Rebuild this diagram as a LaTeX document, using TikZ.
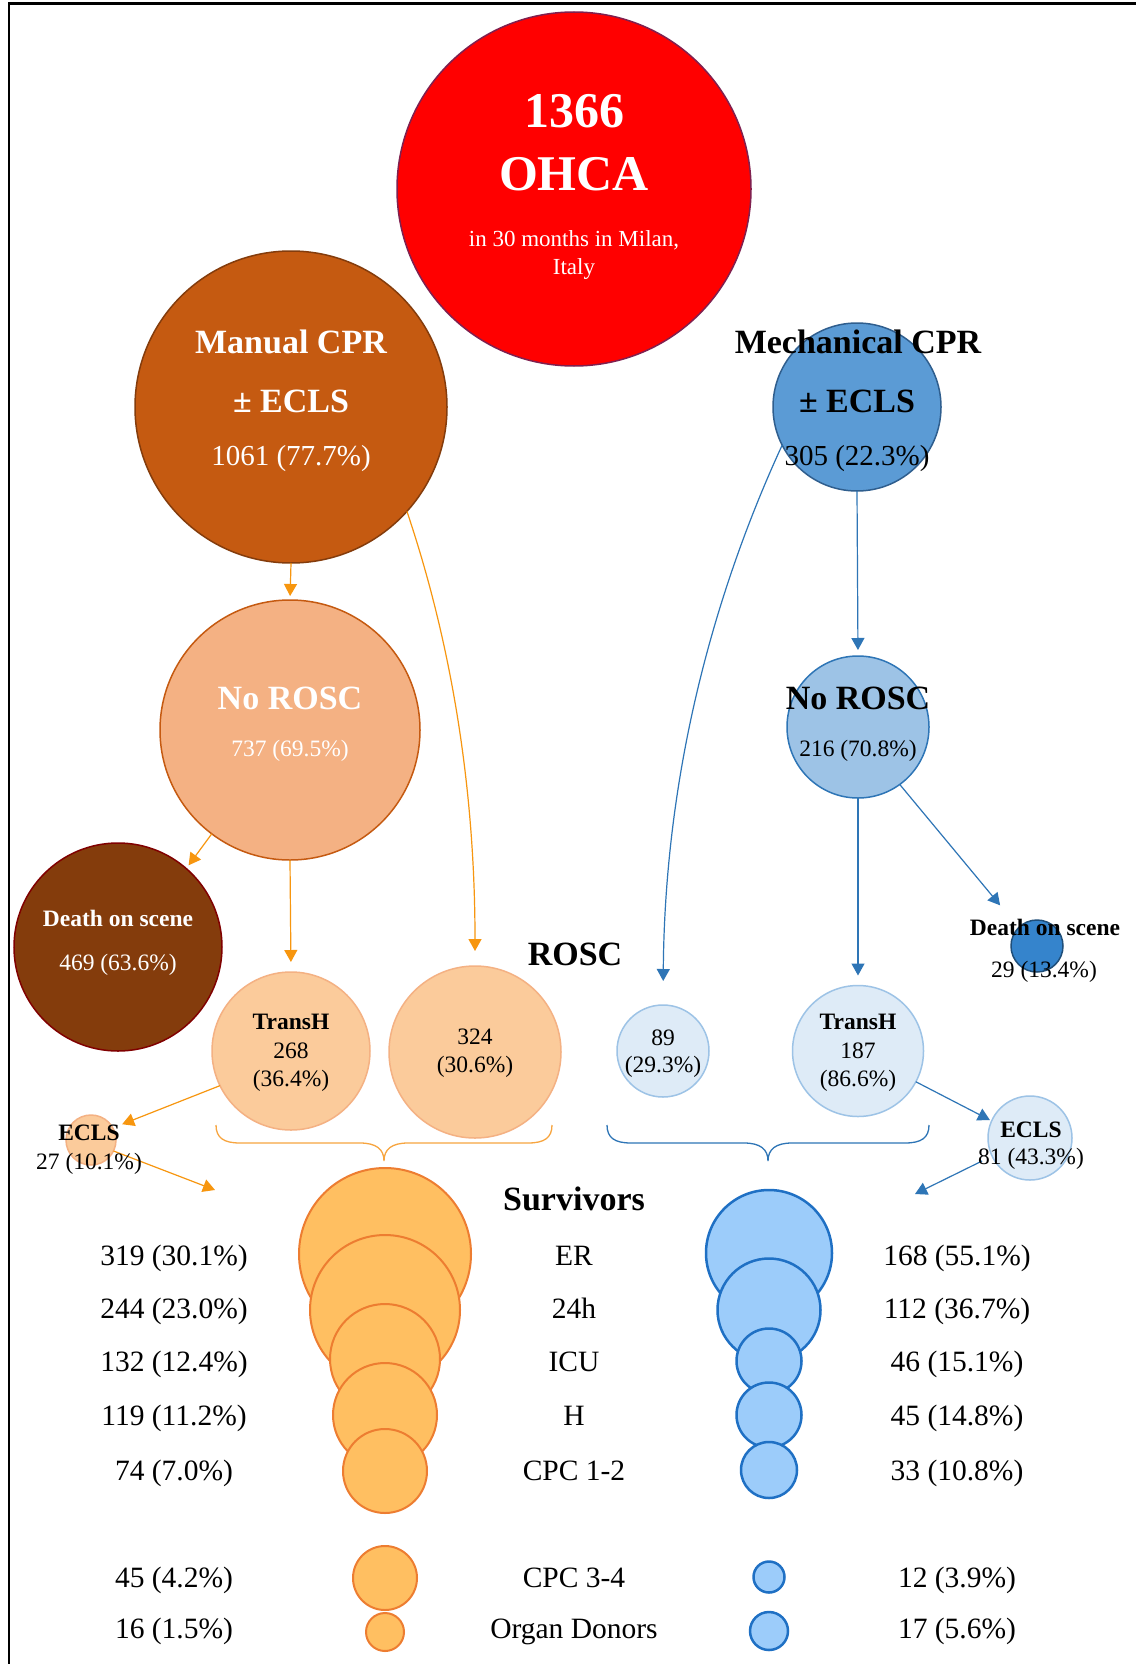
\documentclass[tikz,border=0pt]{standalone}
\usepackage{fontspec}
\setmainfont{Liberation Serif}
\usetikzlibrary{arrows.meta,calc}
\definecolor{ohcaF}{HTML}{FF0000}
\definecolor{ohcaD}{HTML}{80204F}
\definecolor{mcprF}{HTML}{C55A11}
\definecolor{mcprD}{HTML}{843C0C}
\definecolor{nrlF}{HTML}{F4B183}
\definecolor{dlF}{HTML}{843C0C}
\definecolor{dlD}{HTML}{800000}
\definecolor{pchF}{HTML}{FBCB9B}
\definecolor{survLF}{HTML}{FFBF61}
\definecolor{survLD}{HTML}{ED7D31}
\definecolor{mechF}{HTML}{5B9BD5}
\definecolor{mechD}{HTML}{2F5E8E}
\definecolor{nrrF}{HTML}{9DC3E6}
\definecolor{nrrD}{HTML}{2E75B6}
\definecolor{drF}{HTML}{3584CC}
\definecolor{drD}{HTML}{1F4E79}
\definecolor{paleB}{HTML}{DEEBF7}
\definecolor{survRF}{HTML}{9CCCFA}
\definecolor{survRD}{HTML}{1F70C4}
\definecolor{arrO}{HTML}{F7960F}
\definecolor{arrB}{HTML}{2E75B6}
\definecolor{braceO}{HTML}{F7A540}
\newcommand\myfs[1]{\fontsize{#1}{#1}\selectfont}
\begin{document}
\begin{tikzpicture}[x=1pt,y=-1pt,
  circ/.style={circle,inner sep=0pt,outer sep=0pt,minimum size=#1},
  lbl/.style={inner sep=0pt,outer sep=0pt,align=center},
  big/.style={lbl,font=\bfseries\myfs{34}},
  small/.style={lbl,font=\myfs{23.5}},
  smallb/.style={lbl,font=\bfseries\myfs{23.5}},
  row/.style={inner sep=0pt,outer sep=0pt,anchor=base,font=\myfs{29.5}},
  oarr/.style={draw=arrO,line width=1.2pt,-{Triangle[width=13pt,length=12pt]}},
  barr/.style={draw=arrB,line width=1.2pt,-{Triangle[width=13pt,length=12pt]}},
  survL/.style={draw=survLD,fill=survLF,line width=2pt},
  survR/.style={draw=survRD,fill=survRF,line width=2.5pt},
  paleO/.style={draw=nrlF,fill=pchF,line width=1.5pt},
  paleBl/.style={draw=nrrF,fill=paleB,line width=1.5pt}]
\useasboundingbox (0,0) rectangle (1136,1664);
\fill[white] (0,0) rectangle (1136,1664);
\draw[line width=2.5pt] (9,1664) -- (9,3.5) -- (1136,3.5);

% ---- circles
\node[circ=354pt,draw=ohcaD,fill=ohcaF,line width=1.5pt] (ohca) at (574,189) {};
\node[circ=312pt,draw=mcprD,fill=mcprF,line width=1.5pt] (mcpr) at (291,407) {};
\node[circ=168pt,draw=mechD,fill=mechF,line width=1.5pt] (mech) at (857,407) {};
\node[circ=260pt,draw=mcprF,fill=nrlF,line width=1.5pt] (nrl) at (290,730) {};
\node[circ=142pt,draw=nrrD,fill=nrrF,line width=1.5pt] (nrr) at (858,727) {};
\node[circ=208pt,draw=dlD,fill=dlF,line width=1.5pt] (dl) at (118,947) {};
\node[circ=52pt,draw=drD,fill=drF,line width=1.5pt] (dr) at (1037,946) {};
\node[circ=158pt,paleO] (thl) at (291,1051) {};
\node[circ=172pt,paleO] (c324) at (475,1052) {};
\node[circ=92pt,paleBl] (c89) at (663,1051) {};
\node[circ=131pt,paleBl] (thr) at (858,1051) {};
\node[circ=50pt,paleO] (ecl) at (91,1140) {};
\node[circ=84pt,paleBl] (ecr) at (1030,1138) {};

% survivors circles (left)
\node[circ=172pt,survL] (lER) at (385,1254) {};
\node[circ=150pt,survL] (l24) at (385,1310) {};
\node[circ=110pt,survL] (lICU) at (385,1359) {};
\node[circ=104pt,survL] (lH) at (385,1415) {};
\node[circ=84pt,survL] (lCPC) at (385,1471) {};
\node[circ=64pt,survL] (lCPCb) at (385,1578) {};
\node[circ=38pt,survL] (lOD) at (385,1632) {};
% survivors circles (right)
\node[circ=126pt,survR] (rER) at (769,1253) {};
\node[circ=103pt,survR] (r24) at (769,1310) {};
\node[circ=65pt,survR] (rICU) at (769,1361) {};
\node[circ=65pt,survR] (rH) at (769,1415) {};
\node[circ=56pt,survR] (rCPC) at (769,1470) {};
\node[circ=31pt,survR] (rCPCb) at (769,1577) {};
\node[circ=38pt,survR] (rOD) at (769,1631) {};

% ---- braces
\draw[braceO,line width=1.3pt] (216,1125) .. controls (216,1138) and (224,1143) .. (240,1143) -- (360,1143) .. controls (376,1143) and (384,1149) .. (384,1161) .. controls (384,1149) and (392,1143) .. (408,1143) -- (528,1143) .. controls (544,1143) and (552,1138) .. (552,1125);
\draw[arrB,line width=1.3pt] (607,1125) .. controls (607,1138) and (615,1143) .. (631,1143) -- (744,1143) .. controls (760,1143) and (768,1149) .. (768,1161) .. controls (768,1149) and (776,1143) .. (792,1143) -- (905,1143) .. controls (921,1143) and (929,1138) .. (929,1125);

% ---- connectors
\coordinate (s1) at (215,1190);
\coordinate (s2) at (915,1194);
\draw[oarr,shorten >=4pt] (mcpr.south) -- (nrl.north);
\draw[oarr,shorten >=15pt] (mcpr.-42) .. controls (452,645) and (475,790) .. (c324.north);
\draw[oarr,shorten >=4pt] (nrl.-127) -- (dl.49);
\draw[oarr,shorten >=10pt] (nrl.south) -- (thl.north);
\draw[oarr,shorten >=10pt] (thl.-154) -- (ecl.29);
\draw[oarr] (ecl.-26) -- (s1);
\draw[barr,shorten >=24pt] (mech.-153) .. controls (720,580) and (665,760) .. (c89.north);
\draw[barr,shorten >=6pt] (mech.south) -- (nrr.north);
\draw[barr,shorten >=29pt] (nrr.-54) -- (dr.135);
\draw[barr,shorten >=10pt] (nrr.south) -- (thr.north);
\draw[barr,shorten >=2pt] (thr.-28) -- (ecr.156);
\draw[barr] ($(ecr)+(-48,23)$) -- (s2);

% ---- texts
\node[lbl,text=white,font=\bfseries\myfs{50}] (t1) at (574,111) {1366};
\node[lbl,text=white,font=\bfseries\myfs{50}] (t2) at (574,174) {OHCA};
\node[lbl,text=white,font=\myfs{23}] (t3) at (574,240) {in 30 months in Milan,};
\node[lbl,text=white,font=\myfs{23}] (t4) at (574,269) {Italy};

\node[big,text=white] (t5) at (291,342) {Manual CPR};
\node[big,text=white] (t6) at (291,401) {± ECLS};
\node[lbl,text=white,font=\myfs{29}] (t7) at (291,459) {1061 (77.7\%)};

\node[big] (t8) at (858,342) {Mechanical CPR};
\node[big] (t9) at (857,401) {± ECLS};
\node[lbl,font=\myfs{29}] (t10) at (857,459) {305 (22.3\%)};

\node[big,text=white] (t11) at (290,698) {No ROSC};
\node[small,text=white] (t12) at (290,751) {737 (69.5\%)};
\node[big] (t13) at (858,698) {No ROSC};
\node[small] (t14) at (858,751) {216 (70.8\%)};

\node[smallb,text=white] (t15) at (118,918) {Death on scene};
\node[small,text=white] (t16) at (118,965) {469 (63.6\%)};
\node[smallb] (t17) at (1045,927) {Death on scene};
\node[small] (t18) at (1044,972) {29 (13.4\%)};

\node[smallb] (t19) at (291,1022) {TransH};
\node[small] (t20) at (291,1051) {268};
\node[small] (t21) at (291,1081) {(36.4\%)};
\node[small] (t22) at (475,1037) {324};
\node[small] (t23) at (475,1067) {(30.6\%)};
\node[small] (t24) at (663,1038) {89};
\node[small] (t25) at (663,1067) {(29.3\%)};
\node[smallb] (t26) at (858,1022) {TransH};
\node[small] (t27) at (858,1051) {187};
\node[small] (t28) at (858,1081) {(86.6\%)};
\node[smallb] (t29) at (89,1133) {ECLS};
\node[small] (t30) at (89,1164) {27 (10.1\%)};
\node[smallb] (t31) at (1031,1130) {ECLS};
\node[small] (t32) at (1031,1159) {81 (43.3\%)};

\node[big] (t33) at (575,954) {ROSC};
\node[big] (t34) at (574,1199) {Survivors};

% rows
\node[row] (r1a) at (174,1265) {319 (30.1\%)};
\node[row] (r1b) at (574,1265) {ER};
\node[row] (r1c) at (957,1265) {168 (55.1\%)};
\node[row] (r2a) at (174,1318) {244 (23.0\%)};
\node[row] (r2b) at (574,1318) {24h};
\node[row] (r2c) at (957,1318) {112 (36.7\%)};
\node[row] (r3a) at (174,1371) {132 (12.4\%)};
\node[row] (r3b) at (574,1371) {ICU};
\node[row] (r3c) at (957,1371) {46 (15.1\%)};
\node[row] (r4a) at (174,1425) {119 (11.2\%)};
\node[row] (r4b) at (574,1425) {H};
\node[row] (r4c) at (957,1425) {45 (14.8\%)};
\node[row] (r5a) at (174,1480) {74 (7.0\%)};
\node[row] (r5b) at (574,1480) {CPC 1-2};
\node[row] (r5c) at (957,1480) {33 (10.8\%)};
\node[row] (r6a) at (174,1587) {45 (4.2\%)};
\node[row] (r6b) at (574,1587) {CPC 3-4};
\node[row] (r6c) at (957,1587) {12 (3.9\%)};
\node[row] (r7a) at (174,1638) {16 (1.5\%)};
\node[row] (r7b) at (574,1638) {Organ Donors};
\node[row] (r7c) at (957,1638) {17 (5.6\%)};
\end{tikzpicture}
\end{document}
